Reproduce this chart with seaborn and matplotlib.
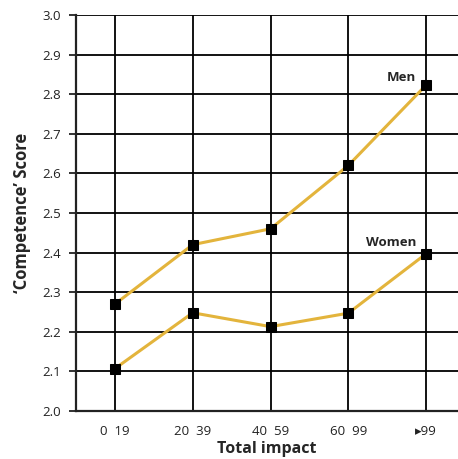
import matplotlib
matplotlib.use("Agg")
import matplotlib.pyplot as plt
import seaborn as sns
import pandas as pd

categories = ["0  19", "20  39", "40  59", "60  99", "▸99"]
men = [2.27, 2.42, 2.46, 2.62, 2.823]
women = [2.107, 2.248, 2.213, 2.247, 2.397]

sns.set_style("white")
plt.rcParams['font.family'] = ['Open Sans', 'DejaVu Sans']

df = pd.DataFrame({
    "x": list(range(len(categories))) * 2,
    "score": men + women,
    "group": ["Men"] * len(men) + ["Women"] * len(women),
})

fig = plt.figure(figsize=(4.58, 4.59), dpi=100)
ax = fig.add_axes([0.166, 0.1046, 0.834, 0.8628])

sns.lineplot(data=df, x="x", y="score", hue="group",
             palette={"Men": "#E3B43C", "Women": "#E3B43C"},
             marker="s", markersize=7, markerfacecolor="black",
             markeredgecolor="black", linewidth=2.2, legend=False, ax=ax)

ax.set_xlim(-0.5, 4.41)
ax.set_ylim(2.0, 3.0)
ax.set_yticks([2.0 + 0.1 * i for i in range(11)])
ax.set_yticklabels([f"{2.0 + 0.1 * i:.1f}" for i in range(11)], fontsize=9.5, color="#222222")
ax.set_xticks(range(len(categories)))
ax.set_xticklabels(categories, fontsize=9.5, color="#222222")

ax.grid(True, color="black", linewidth=1.3)
ax.set_axisbelow(True)
for s in ["top", "right"]:
    ax.spines[s].set_visible(False)
for s in ["left", "bottom"]:
    ax.spines[s].set_color("#222222")
    ax.spines[s].set_linewidth(1.6)

ax.tick_params(axis="y", length=5, width=1.3, color="#222222", pad=6, left=True)
ax.tick_params(axis="x", length=0, pad=10)

ax.set_xlabel("Total impact", fontsize=11.5, fontweight="bold", labelpad=2)
ax.set_ylabel("‘Competence’ Score", fontsize=12, fontweight="bold", labelpad=8)

ax.text(3.87, men[4] + 0.02, "Men", fontsize=9.5, fontweight="bold", ha="right", va="center")
ax.text(3.87, women[4] + 0.028, "Women", fontsize=9.5, fontweight="bold", ha="right", va="center")

fig.savefig("out.png", dpi=100)
